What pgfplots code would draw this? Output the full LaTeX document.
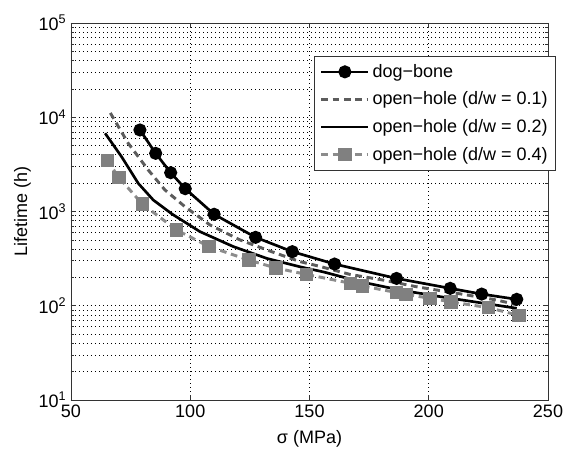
\documentclass[border=0pt]{standalone}
\usepackage{fontspec}
\setmainfont{Liberation Sans}
\usepackage{pgfplots}
\pgfplotsset{compat=1.18}
\definecolor{dgray}{gray}{0.36}
\definecolor{lgray}{gray}{0.55}
\definecolor{mgray}{gray}{0.5}
\begin{document}
\begin{tikzpicture}
\begin{axis}[name=ax, scale only axis, width=357.75pt, height=282.75pt,
  xmin=50, xmax=250, ymode=log, ymin=10, ymax=1e5,
  xtick={50,100,150,200,250},
  ytick={10,100,1000,10000,100000},
  yticklabels={10\textsuperscript{1},10\textsuperscript{2},10\textsuperscript{3},10\textsuperscript{4},10\textsuperscript{5}},
  /pgf/number format/assume math mode=true,
  xmajorgrids, ymajorgrids, yminorgrids,
  major grid style={black, line width=0.5pt, dash pattern=on 0.8pt off 2.2pt},
  minor grid style={black, line width=0.5pt, dash pattern=on 0.8pt off 2.2pt},
  tick align=inside, tick pos=both,
  major tick length=4pt, minor tick length=2pt,
  axis line style={black!80, line width=0.6pt},
  tick style={black!80, line width=0.5pt},
  font=\fontsize{13.5}{16}\selectfont,
  xticklabel style={yshift=0pt},
  xlabel={σ (MPa)}, ylabel={Lifetime (h)},
  xlabel style={yshift=-3pt},
  ylabel style={yshift=-1pt},
  legend cell align=left,
  legend style={at={(1.0168,0.9125)}, anchor=north east, draw=black!80, fill=white,
    line width=0.5pt, font=\fontsize{13.5}{16}\selectfont, row sep=5.4pt,
    inner xsep=4pt, inner ysep=4pt},
  legend image code/.code={\draw[mark repeat=2,mark phase=2,#1] plot coordinates {(0cm,0cm) (0.62cm,0cm) (1.24cm,0cm)};},
]
\addplot[black, line width=2pt, mark=*, mark size=3.9pt, mark options={solid, fill=black}] coordinates {
(78.9,7330)(85.5,4140)(91.8,2580)(97.9,1746)(110.0,934)(127.4,532)(142.8,375)(160.5,277)(186.5,195)(209.0,153)(222.2,133)(236.9,117)};
\addlegendentry{dog−bone}
\addplot[dgray, line width=2.2pt, dash pattern=on 5pt off 3.5pt] coordinates {
(66.5,11100)(74.0,5290)(82.4,2755)(89.4,1692)(97.8,1124)(108.3,719)(120.9,499)(134.1,375)(146.0,294)(153.7,264)(167,215)(181,187)(194.9,159)(214.5,132)(228.5,115)(236.5,103)};
\addlegendentry{open−hole (d/w = 0.1)}
\addplot[black, line width=2pt] coordinates {
(64.3,6760)(71.2,3816)(78.2,1990)(84.5,1324)(92.5,935)(104.1,611)(118.1,424)(132.1,318)(146.0,259)(156,228)(171.2,180)(187.9,147)(204.7,125)(236.9,94)};
\addlegendentry{open−hole (d/w = 0.2)}
\addplot[lgray, line width=2.2pt, dash pattern=on 5pt off 3.5pt, mark=square*, mark size=3.9pt, mark options={solid, fill=mgray, draw=mgray}] coordinates {
(65.2,3490)(70.1,2285)(79.9,1202)(94.3,636)(107.9,424)(124.6,305)(136.0,251)(148.8,215)(167.2,173)(172.3,162)(186.5,138)(190.5,132)(200.5,120)(209.3,110)(225.0,95.4)(237.8,79)};
\addlegendentry{open−hole (d/w = 0.4)}
\end{axis}
\pgfresetboundingbox
\path ([shift={(-53.25pt,-37.5pt)}]ax.south west) rectangle ([shift={(12pt,17.25pt)}]ax.north east);
\end{tikzpicture}
\end{document}
